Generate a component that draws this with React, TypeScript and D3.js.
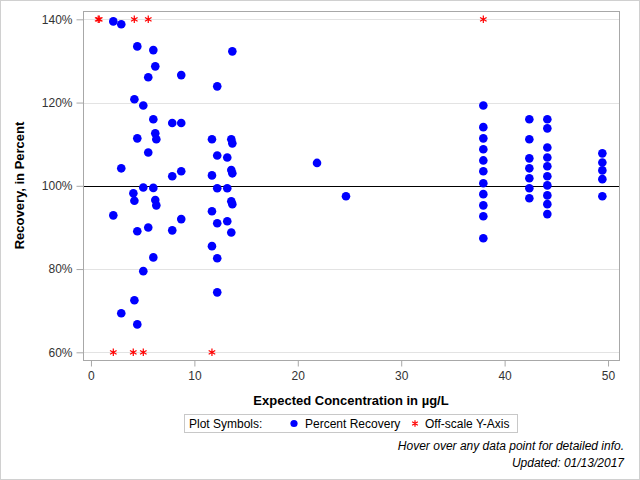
import { useEffect, useRef } from "react";
import * as d3 from "d3";

// expected concentration (µg/L) and percent recovery, one entry per dot
const concentration = [
  2.16, 2.16,
  2.93, 2.93, 2.93,
  4.1,
  4.2, 4.2, 4.2,
  4.48, 4.48, 4.48, 4.48,
  5.06, 5.06, 5.06,
  5.54, 5.54, 5.54,
  6.03, 6.03, 6.03, 6.03,
  6.22, 6.22, 6.22,
  6.32, 6.32,
  7.86, 7.86, 7.86,
  8.73, 8.73, 8.73, 8.73,
  11.7, 11.7, 11.7, 11.7,
  12.21, 12.21, 12.21, 12.21, 12.21, 12.21,
  13.18, 13.18, 13.18,
  13.57, 13.57, 13.57, 13.57,
  13.67, 13.67, 13.67, 13.67,
  21.86,
  24.66,
  37.94, 37.94, 37.94, 37.94, 37.94, 37.94, 37.94, 37.94, 37.94, 37.94, 37.94,
  42.39, 42.39, 42.39, 42.39, 42.39, 42.39, 42.39,
  44.13, 44.13, 44.13, 44.13, 44.13, 44.13, 44.13, 44.13, 44.13, 44.13,
  49.45, 49.45, 49.45, 49.45, 49.45,
];
const recovery = [
  139.5, 92.9,
  138.8, 104.2, 69.4,
  98.2,
  120.8, 96.4, 72.5,
  133.5, 111.4, 89.1, 66.7,
  119.3, 99.6, 79.5,
  126.1, 108.0, 90.0,
  132.6, 116.0, 99.5, 82.8,
  128.7, 112.6, 96.6,
  111.2, 95.3,
  115.1, 102.3, 89.3,
  126.6, 115.1, 103.5, 92.0,
  111.2, 102.5, 93.9, 85.5,
  123.9, 107.3, 99.4, 91.0, 82.6, 74.4,
  106.8, 99.4, 91.5,
  111.2, 103.8, 96.3, 88.8,
  132.3, 110.2, 103.0, 95.6,
  105.5,
  97.5,
  119.3, 114.1, 111.4, 108.8, 106.1, 103.5, 100.6, 98.0, 95.3, 92.7, 87.4,
  116.0, 111.2, 106.6, 104.2, 101.8, 99.4, 97.0,
  116.0, 113.8, 109.2, 106.8, 104.7, 102.3, 100.1, 97.7, 95.6, 93.2,
  107.8, 105.6, 103.7, 101.6, 97.5,
];

// off-scale points, drawn on the 140% / 60% edge
const offConcentration = [0.7, 0.8, 4.19, 5.54, 37.94, 2.16, 4.09, 5.06, 11.7];
const offRecovery = [140, 140, 140, 140, 140, 60, 60, 60, 60];

const xTicks = [0, 10, 20, 30, 40, 50];
const yTicks = [60, 80, 100, 120, 140];

const FONT = "'Liberation Sans', Arial, sans-serif";

export default function App() {
  const ref = useRef<SVGSVGElement>(null);

  useEffect(() => {
    if (!ref.current) return;
    const w = 640;
    const h = 480;
    const m = { top: 11, right: 21, bottom: 120, left: 83 };

    const svg = d3.select(ref.current);
    svg.selectAll("*").remove();
    svg.attr("width", w).attr("height", h).style("font-family", FONT);

    svg.append("rect").attr("x", 0.5).attr("y", 0.5).attr("width", w - 1).attr("height", h - 1).attr("fill", "#fff").attr("stroke", "#d0d0d0");

    const x = d3.scaleLinear().domain([-0.77, 51.06]).range([m.left, w - m.right]);
    const y = d3.scaleLinear().domain([58.15, 142.0]).range([h - m.bottom, m.top]);

    // gridlines
    svg
      .append("g")
      .selectAll("line")
      .data(yTicks.filter((t) => t !== 100))
      .join("line")
      .attr("x1", m.left)
      .attr("x2", w - m.right)
      .attr("y1", (d) => Math.round(y(d)) + 0.5)
      .attr("y2", (d) => Math.round(y(d)) + 0.5)
      .attr("stroke", "#e3e3e3");

    svg
      .append("line")
      .attr("x1", m.left)
      .attr("x2", w - m.right)
      .attr("y1", Math.round(y(100)) + 0.5)
      .attr("y2", Math.round(y(100)) + 0.5)
      .attr("stroke", "#000");

    // frame
    svg
      .append("rect")
      .attr("x", m.left + 0.5)
      .attr("y", m.top + 0.5)
      .attr("width", w - m.left - m.right)
      .attr("height", h - m.top - m.bottom)
      .attr("fill", "none")
      .attr("stroke", "#a8a8a8");

    const xAxis = svg
      .append("g")
      .attr("transform", `translate(0,${h - m.bottom + 0.5})`)
      .call(d3.axisBottom(x).tickValues(xTicks).tickSize(6).tickSizeOuter(0).tickPadding(5));
    xAxis.select(".domain").remove();
    xAxis.selectAll(".tick line").attr("stroke", "#a8a8a8");
    xAxis.selectAll(".tick text").attr("font-size", 12).attr("fill", "#333").style("font-family", FONT);

    const yAxis = svg
      .append("g")
      .attr("transform", `translate(${m.left + 0.5},0)`)
      .call(
        d3
          .axisLeft(y)
          .tickValues(yTicks)
          .tickSize(7)
          .tickSizeOuter(0)
          .tickPadding(4)
          .tickFormat((d) => `${d}%`)
      );
    yAxis.select(".domain").remove();
    yAxis.selectAll(".tick line").attr("stroke", "#a8a8a8");
    yAxis.selectAll(".tick text").attr("font-size", 12).attr("fill", "#333").style("font-family", FONT);

    // axis titles
    svg
      .append("text")
      .attr("x", (m.left + w - m.right) / 2)
      .attr("y", 405)
      .attr("text-anchor", "middle")
      .attr("font-size", 13)
      .attr("font-weight", "bold")
      .text("Expected Concentration in µg/L");

    svg
      .append("text")
      .attr("transform", `translate(24,${(m.top + h - m.bottom) / 2}) rotate(-90)`)
      .attr("text-anchor", "middle")
      .attr("font-size", 13)
      .attr("font-weight", "bold")
      .text("Recovery, in Percent");

    // points
    const pts = concentration.map((c, i) => ({ c, r: recovery[i] }));
    svg
      .append("g")
      .selectAll("circle")
      .data(pts)
      .join("circle")
      .attr("cx", (d) => x(d.c))
      .attr("cy", (d) => y(d.r))
      .attr("r", 4.3)
      .attr("fill", "#0000ff");

    const star = d3.symbol(d3.symbolAsterisk, 40);
    const off = offConcentration.map((c, i) => ({ c, r: offRecovery[i] }));
    svg
      .append("g")
      .selectAll("path")
      .data(off)
      .join("path")
      .attr("transform", (d) => `translate(${x(d.c)},${y(d.r)})`)
      .attr("d", star())
      .attr("fill", "none")
      .attr("stroke", "#ff0000")
      .attr("stroke-width", 1.2);

    // legend
    const lg = svg.append("g");
    lg.append("rect").attr("x", 184.5).attr("y", 414.5).attr("width", 333).attr("height", 18).attr("fill", "#fff").attr("stroke", "#c8c8c8");
    lg.append("text").attr("x", 189).attr("y", 428).attr("font-size", 12).text("Plot Symbols:");
    lg.append("circle").attr("cx", 294).attr("cy", 423.5).attr("r", 3.6).attr("fill", "#0000ff");
    lg.append("text").attr("x", 305).attr("y", 428).attr("font-size", 12).text("Percent Recovery");
    lg.append("path").attr("transform", "translate(415,423.5)").attr("d", d3.symbol(d3.symbolAsterisk, 30)()).attr("fill", "none").attr("stroke", "#ff0000").attr("stroke-width", 1.2);
    lg.append("text").attr("x", 425).attr("y", 428).attr("font-size", 12).text("Off-scale Y-Axis");

    // footnotes
    svg.append("text").attr("x", 624).attr("y", 450).attr("text-anchor", "end").attr("font-size", 12).attr("font-style", "italic").text("Hover over any data point for detailed info.");
    svg.append("text").attr("x", 624).attr("y", 467).attr("text-anchor", "end").attr("font-size", 12).attr("font-style", "italic").text("Updated: 01/13/2017");
  }, []);

  return <svg ref={ref} style={{ position: "absolute", left: 0, top: 0 }} />;
}
